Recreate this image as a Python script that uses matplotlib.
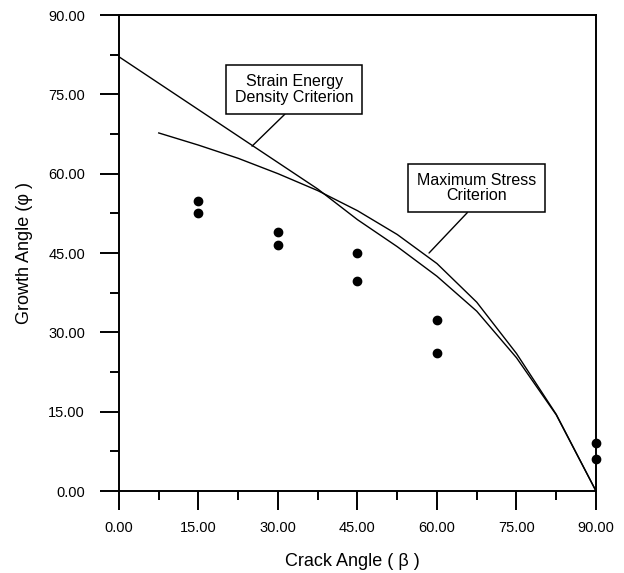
import matplotlib.pyplot as plt
from matplotlib.ticker import MultipleLocator

# crack angle beta (deg) where the criterion curves were evaluated
beta_sed = [0, 7.5, 15, 22.5, 30, 37.5, 45, 52.5, 60, 67.5, 75, 82.5, 90]
phi_sed = [82.1, 77.1, 72.1, 67.1, 62.1, 57.1, 51.3, 46.2, 40.6, 34.0, 25.2, 14.4, 0.0]

beta_mts = [7.5, 15, 22.5, 30, 37.5, 45, 52.5, 60, 67.5, 75, 82.5, 90]
phi_mts = [67.7, 65.4, 62.9, 60.0, 56.8, 53.0, 48.5, 43.0, 35.7, 26.0, 14.5, 0.0]

# experimental growth angles
beta_exp = [15, 15, 30, 30, 45, 45, 60, 60, 90, 90]
phi_exp = [54.8, 52.6, 49.0, 46.5, 45.0, 39.7, 32.3, 26.1, 9.1, 6.0]

tick_font = ['Liberation Sans Narrow', 'Liberation Sans', 'DejaVu Sans']
label_font = ['Liberation Sans', 'DejaVu Sans']

fig = plt.figure(figsize=(6.24, 5.73), dpi=100)
ax = fig.add_axes([0.1907, 0.1431, 0.7644, 0.8307])

ax.plot(beta_sed, phi_sed, color='black', lw=1.0)
ax.plot(beta_mts, phi_mts, color='black', lw=1.0)
ax.plot(beta_exp, phi_exp, 'o', color='black', markersize=6, clip_on=False)

ax.set_xlim(0, 90)
ax.set_ylim(0, 90)
ax.xaxis.set_major_locator(MultipleLocator(15))
ax.xaxis.set_minor_locator(MultipleLocator(7.5))
ax.yaxis.set_major_locator(MultipleLocator(15))
ax.yaxis.set_minor_locator(MultipleLocator(7.5))
ax.xaxis.set_major_formatter(lambda v, p: f'{v:.2f}')
ax.yaxis.set_major_formatter(lambda v, p: f'{v:.2f}')

ax.tick_params(which='major', direction='out', length=13.5, width=1.4)
ax.tick_params(which='minor', direction='out', length=6.5, width=1.4)
ax.tick_params(axis='x', which='major', pad=8)
ax.tick_params(axis='y', which='major', pad=11)
for lab in ax.get_xticklabels() + ax.get_yticklabels():
    lab.set_family(tick_font)
    lab.set_fontsize(10.5)

for side in ['left', 'bottom', 'top', 'right']:
    ax.spines[side].set_linewidth(1.4)

ax.set_xlabel('Crack Angle ( \u03b2 )', family=label_font, fontsize=13)
ax.set_ylabel('Growth Angle (\u03c6 )', family=label_font, fontsize=13)
ax.xaxis.set_label_coords(0.49, -0.13)
ax.yaxis.set_label_coords(-0.18, 0.5)

box = dict(boxstyle='square,pad=0.55', fc='white', ec='black', lw=1.1)
ax.annotate('Strain Energy\nDensity Criterion', xy=(25.1, 65.2), xytext=(33.1, 75.9),
            ha='center', va='center', multialignment='center', linespacing=1.05,
            family=label_font, fontsize=11.5, bbox=box,
            arrowprops=dict(arrowstyle='-', color='black', lw=1.0,
                            shrinkA=0, shrinkB=0, relpos=(0.5, 0)))
ax.annotate('Maximum Stress\nCriterion', xy=(58.5, 45.0), xytext=(67.4, 57.3),
            ha='center', va='center', multialignment='center', linespacing=1.05,
            family=label_font, fontsize=11.5, bbox=box,
            arrowprops=dict(arrowstyle='-', color='black', lw=1.0,
                            shrinkA=0, shrinkB=0, relpos=(0.5, 0)))

fig.savefig('out.png', dpi=100)
